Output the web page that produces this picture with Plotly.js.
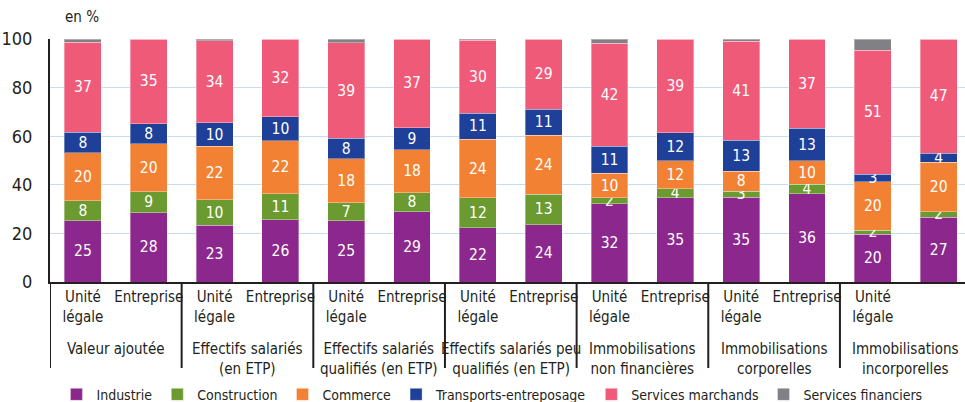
<!DOCTYPE html>
<html><head><meta charset="utf-8">
<script src="https://cdn.plot.ly/plotly-3.0.1.min.js"></script>
<style>html,body{margin:0;padding:0;background:#fff}#chart{width:965px;height:402px}
#chart text{font-stretch:condensed !important}</style>
</head><body><div id="chart"></div>
<script>
const groups = ["Valeur ajoutée", "Effectifs salariés<br>(en ETP)", "Effectifs salariés<br>qualifiés (en ETP)", "Effectifs salariés peu<br>qualifiés (en ETP)", "Immobilisations<br>non financières", "Immobilisations<br>corporelles", "Immobilisations<br>incorporelles"];
const subLabels = ["Unité<br>légale", "Entreprise"];
const sectors = ["Industrie", "Construction", "Commerce", "Transports-entreposage", "Services marchands", "Services financiers"];
const colors = ["#8C288D", "#6B9A30", "#F38133", "#1F4099", "#EF5A79", "#808085"];

const industrie = [25.2, 28.4, 23.4, 25.6, 25.2, 28.9, 22.3, 23.6, 32.2, 34.6, 34.8, 36.3, 19.7, 26.6];
const construction = [8.2, 8.7, 10.4, 10.7, 7.4, 7.8, 12.3, 12.6, 2.4, 3.7, 2.6, 4.0, 1.7, 2.4];
const commerce = [19.8, 19.7, 22.0, 21.8, 18.1, 17.7, 24.2, 24.2, 10.2, 11.6, 8.2, 9.5, 19.8, 20.3];
const transports = [8.4, 8.4, 9.8, 9.9, 8.4, 9.1, 10.6, 10.7, 11.1, 11.6, 12.8, 13.4, 3.2, 3.7];
const servicesMarchands = [37.1, 34.8, 33.6, 32.0, 39.4, 36.5, 30.0, 28.9, 42.4, 38.5, 40.7, 36.8, 50.9, 47.0];
const servicesFinanciers = [1.3, 0, 0.8, 0, 1.5, 0, 0.6, 0, 1.7, 0, 0.9, 0, 4.7, 0];

const series = [industrie, construction, commerce, transports, servicesMarchands, servicesFinanciers];
const FONT = "'DejaVu Sans Condensed', 'DejaVu Sans', sans-serif";
const INK = "#231F20";

const nBars = groups.length * subLabels.length;
const xs = Array.from({length: nBars}, (_, i) => i);
const tickText = xs.map(i => subLabels[i % subLabels.length]);

const traces = series.map((vals, s) => ({
  type: "bar",
  name: sectors[s],
  x: xs,
  y: vals,
  width: 0.56,
  marker: {color: colors[s], line: {color: "rgba(255,255,255,0.35)", width: 1}},
  text: vals.map(v => (s === 5 ? (v >= 3 ? String(Math.round(v)) : "") : (v > 0 ? String(Math.round(v)) : ""))),
  textposition: "inside",
  insidetextanchor: "middle",
  textangle: 0,
  constraintext: "none",
  cliponaxis: false,
  textfont: {family: FONT, size: 15.5, color: "#ffffff"},
  hoverinfo: "skip"
}));

const shapes = [];
for (let g = 0; g <= groups.length; g++) {
  shapes.push({type: "line", xref: "x", yref: "paper", x0: g * 2 - 0.5, x1: g * 2 - 0.5, y0: 0, y1: -0.354,
    line: {color: INK, width: 2}});
}
const annotations = groups.map((gname, g) => ({
  xref: "x", yref: "paper", x: g * 2 + 0.5, y: -0.232, yanchor: "top", xanchor: "center",
  text: gname, showarrow: false, align: "center",
  font: {family: FONT, size: 15, color: INK}
}));
annotations.push({xref: "paper", yref: "paper", x: 0.014, y: 1.09, xanchor: "left", yanchor: "middle",
  text: "en %", showarrow: false, font: {family: FONT, size: 15, color: INK}});

const layout = {
  width: 965, height: 402,
  margin: {l: 50, r: 0, t: 39, b: 120},
  paper_bgcolor: "#ffffff", plot_bgcolor: "#ffffff",
  barmode: "stack",
  showlegend: true,
  legend: {orientation: "h", x: 0.483, xanchor: "center", yref: "container", y: 0.018, yanchor: "middle",
    font: {family: FONT, size: 14, color: INK}, itemwidth: 30, traceorder: "normal"},
  xaxis: {range: [-0.5, 13.4], tickvals: xs, ticktext: tickText, ticks: "", showgrid: false, zeroline: false,
    showline: true, linecolor: INK, linewidth: 2, tickfont: {family: FONT, size: 15, color: INK}, fixedrange: true},
  yaxis: {range: [0, 100], tickvals: [0, 20, 40, 60, 80, 100], ticks: "", showgrid: true, gridcolor: "#C6DDF0", gridwidth: 1.3,
    zeroline: false, showline: true, linecolor: INK, linewidth: 2, ticklabelstandoff: 12,
    tickfont: {family: FONT, size: 18, color: INK}, fixedrange: true},
  shapes: shapes,
  annotations: annotations
};

Plotly.newPlot("chart", traces, layout, {displayModeBar: false, staticPlot: true});
</script>
</body></html>
